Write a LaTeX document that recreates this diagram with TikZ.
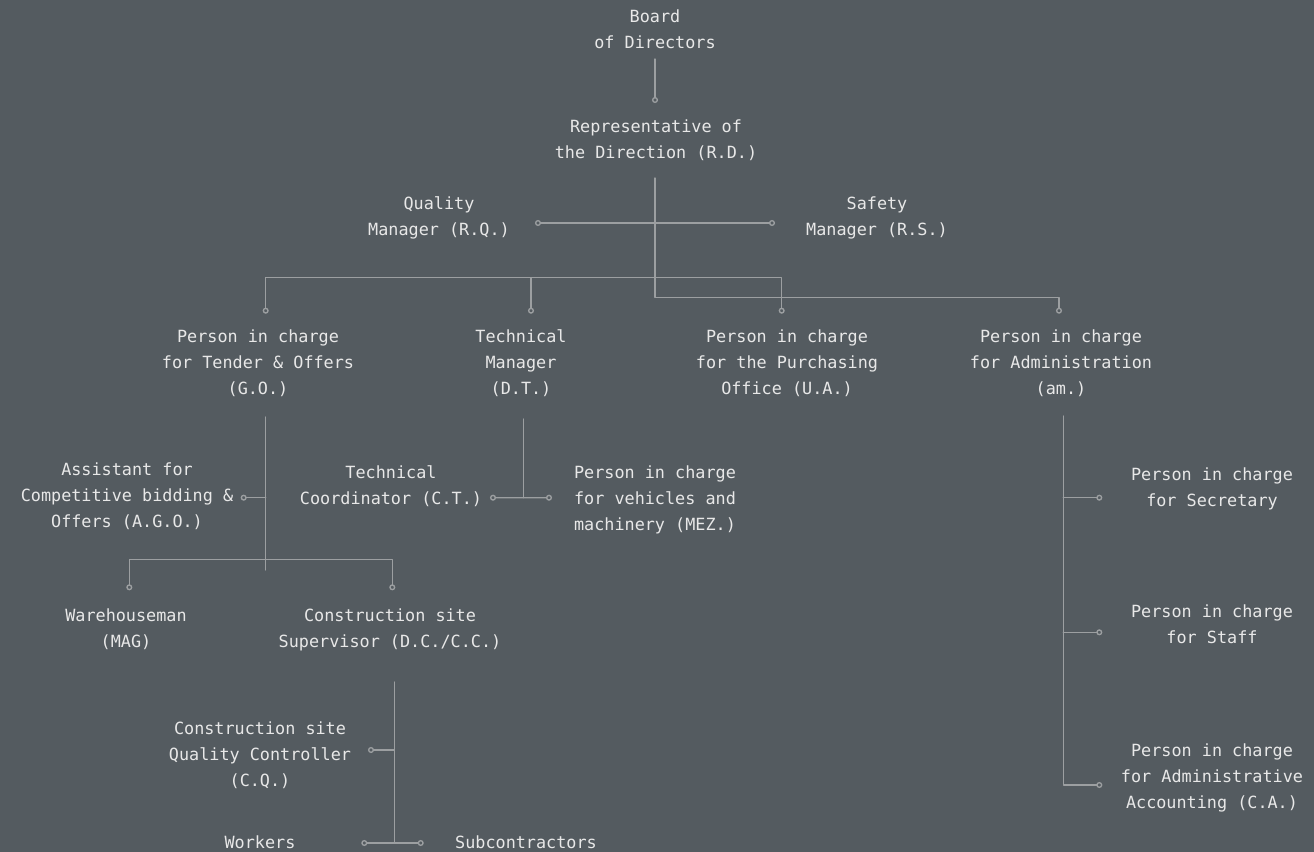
\documentclass[tikz,border=0pt]{standalone}
\usepackage{fontspec}
\newfontfamily\orgfont{DejaVu Sans Mono}
\usetikzlibrary{calc,arrows.meta}
\definecolor{slate}{HTML}{545B60}
\definecolor{ink}{HTML}{E8E8E8}
\definecolor{wire}{HTML}{9C9FA1}
\begin{document}
\begin{tikzpicture}[x=0.75pt, y=-0.75pt, line join=round, line cap=round,
 font=\orgfont\fontsize{12.6}{19.5}\selectfont,
 knob/.tip={Circle[open, length=4.5pt, width=4.5pt]},
 role/.style={align=center, inner sep=0pt, text=ink,
  execute at begin node=\rule{0pt}{19.5pt}, execute at end node=\rule[-3pt]{0pt}{3pt}},
 link/.style={draw=wire, line width=1pt}]
 \fill[slate] (0,0) rectangle (1314,852);
 % top of the chart
 \node[role] (board) at (655,31) {Board\\of Directors};
 \node[role] (rd) at (656,141) {Representative of\\the Direction (R.D.)};
 \node[role] (rq) at (439,218) {Quality\\Manager (R.Q.)};
 \node[role] (rs) at (877,218) {Safety\\Manager (R.S.)};
 % second row
 \node[role] (go) at (258,364) {Person in charge\\for Tender \& Offers\\(G.O.)};
 \node[role] (dt) at (521,364) {Technical\\Manager\\(D.T.)};
 \node[role] (ua) at (787,364) {Person in charge\\for the Purchasing\\Office (U.A.)};
 \node[role] (am) at (1061,364) {Person in charge\\for Administration\\(am.)};
 % below G.O. and D.T.
 \node[role] (ago) at (127,497) {Assistant for\\Competitive bidding \&\\Offers (A.G.O.)};
 \node[role] (ct) at (391,487) {Technical\\Coordinator (C.T.)};
 \node[role] (mez) at (655,500) {Person in charge\\for vehicles and\\machinery (MEZ.)};
 \node[role] (mag) at (126,630) {Warehouseman\\(MAG)};
 \node[role] (dc) at (390,630) {Construction site\\Supervisor (D.C./C.C.)};
 \node[role] (cq) at (260,756) {Construction site\\Quality Controller\\(C.Q.)};
 \node[role] (wk) at (260,837) {Workers};
 \node[role] (sub) at (526,837) {Subcontractors};
 % below am.
 \node[role] (sec) at (1212,489) {Person in charge\\for Secretary};
 \node[role] (staff) at (1212,626) {Person in charge\\for Staff};
 \node[role] (ca) at (1212,778) {Person in charge\\for Administrative\\Accounting (C.A.)};

 \draw[link,-knob] ($(board)+(0,28)$) -- ($(rd)+(-1,-38)$);
 \draw[link,-knob] ($(rd)+(-1,37)$) |- ($(am)+(-2,-66.3)$) -- ($(am)+(-2,-50.3)$);
 \draw[link,knob-knob] ($(rq)+(96,5)$) -- ($(rs)+(-102,5)$);
 \draw[link,knob-knob] ($(go)+(7.7,-50.3)$) |- ($(ua)+(-5.3,-86.3)$) -- ($(ua)+(-5.3,-50.3)$);
 \draw[link,-knob] ($(dt)+(10,-86.3)$) -- ($(dt)+(10,-50.3)$);
 % G.O. branch
 \draw[link] ($(go)+(7.7,53)$) -- ($(go)+(7.7,206)$);
 \draw[link,-knob] ($(go)+(7.7,133.7)$) -- ($(ago)+(113.7,0.7)$);
 \draw[link,knob-knob] ($(mag)+(3.3,-39.7)$) |- ($(dc)+(2.3,-70.7)$) -- ($(dc)+(2.3,-39.7)$);
 % D.T. branch
 \draw[link] ($(dt)+(2.3,55)$) -- ($(dt)+(2.3,133.7)$);
 \draw[link,knob-knob] ($(ct)+(99,10.7)$) -- ($(mez)+(-103,-2.3)$);
 % D.C. branch
 \draw[link] ($(dc)+(4.3,52)$) -- ($(dc)+(4.3,213)$);
 \draw[link,-knob] ($(dc)+(4.3,120)$) -- ($(cq)+(108,-6)$);
 \draw[link,knob-knob] ($(wk)+(101.3,6)$) -- ($(sub)+(-102.3,6)$);
 % am. branch
 \draw[link,-knob] ($(am)+(2.3,52)$) |- ($(ca)+(-109.7,7)$);
 \draw[link,-knob] ($(am)+(2.3,133.7)$) -- ($(sec)+(-109.7,8.7)$);
 \draw[link,-knob] ($(am)+(2.3,268.3)$) -- ($(staff)+(-109.7,6.3)$);
\end{tikzpicture}
\end{document}
